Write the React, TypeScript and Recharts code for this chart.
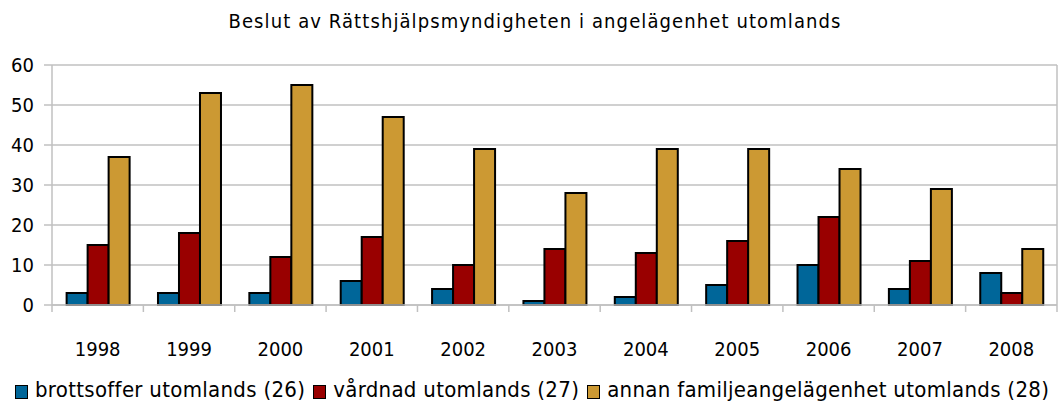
import { Bar, BarChart, CartesianGrid, XAxis, YAxis } from "recharts";

const years = ["1998", "1999", "2000", "2001", "2002", "2003", "2004", "2005", "2006", "2007", "2008"];
const brottsoffer = [3, 3, 3, 6, 4, 1, 2, 5, 10, 4, 8];
const vardnad = [15, 18, 12, 17, 10, 14, 13, 16, 22, 11, 3];
const annan = [37, 53, 55, 47, 39, 28, 39, 39, 34, 29, 14];
const yTicks = [0, 10, 20, 30, 40, 50, 60];

const seriesNames = [
  "brottsoffer utomlands (26)",
  "vårdnad utomlands (27)",
  "annan familjeangelägenhet utomlands (28)",
];
const seriesKeys = ["brottsoffer", "vardnad", "annan"];
const seriesColors = ["#006699", "#990000", "#CC9933"];

const title = "Beslut av Rättshjälpsmyndigheten i angelägenhet utomlands";

const data = years.map((year, i) => ({
  year,
  brottsoffer: brottsoffer[i],
  vardnad: vardnad[i],
  annan: annan[i],
}));

const FONT = "'DejaVu Sans Condensed', 'DejaVu Sans', sans-serif";
const GRID = "#c0c0c0";

const XTick = (props: any) => {
  const { x, y, payload, index } = props;
  const half = payload?.offset ?? 45.7;
  return (
    <g>
      <line x1={x - half} x2={x - half} y1={y} y2={y + 7} stroke={GRID} strokeWidth={1.5} />
      {index === years.length - 1 && (
        <line x1={x + half} x2={x + half} y1={y} y2={y + 7} stroke={GRID} strokeWidth={1.5} />
      )}
      <text x={x} y={y + 51} textAnchor="middle" fontSize={20} fill="#000" fontFamily={FONT}>
        {payload.value}
      </text>
    </g>
  );
};

export default function App() {
  return (
    <div style={{ position: "absolute", left: 0, top: 0, width: 1060, height: 401, background: "#fff", fontFamily: FONT }}>
      <div
        style={{
          position: "absolute",
          top: 10,
          left: 0,
          width: 1070,
          textAlign: "center",
          fontSize: 20,
          lineHeight: "22px",
          color: "#000",
          letterSpacing: 1.1,
        }}
      >
        {title}
      </div>
      <BarChart
        width={1060}
        height={401}
        data={data}
        margin={{ top: 65, right: 3, left: 0, bottom: 0 }}
        barCategoryGap="16%"
        barGap={0}
      >
        <CartesianGrid
          stroke={GRID}
          strokeWidth={1.5}
          vertical={true}
          verticalCoordinatesGenerator={({ offset }: any) => [offset.left + offset.width]}
        />
        <XAxis
          dataKey="year"
          height={96}
          axisLine={{ stroke: GRID, strokeWidth: 1.5 }}
          tickLine={false}
          tickSize={0}
          tickMargin={0}
          tick={<XTick />}
          interval={0}
        />
        <YAxis
          width={52}
          domain={[0, 60]}
          ticks={yTicks}
          interval={0}
          axisLine={{ stroke: GRID, strokeWidth: 1.5 }}
          tickLine={{ stroke: GRID, strokeWidth: 1.5 }}
          tickSize={8}
          tickMargin={10}
          tick={{ fontSize: 20, fill: "#000", fontFamily: FONT }}
        />
        {seriesKeys.map((key, i) => (
          <Bar
            key={key}
            dataKey={key}
            name={seriesNames[i]}
            fill={seriesColors[i]}
            stroke="#000"
            strokeWidth={2}
            isAnimationActive={false}
          />
        ))}
      </BarChart>
      <div
        style={{
          position: "absolute",
          top: 378,
          left: 15,
          display: "flex",
          alignItems: "center",
          fontSize: 22,
          color: "#000",
          whiteSpace: "nowrap",
          lineHeight: "24px",
          letterSpacing: 0.3,
        }}
      >
        {seriesNames.map((name, i) => (
          <span key={name} style={{ display: "flex", alignItems: "center", marginRight: 8 }}>
            <span
              style={{
                display: "inline-block",
                width: 11,
                height: 12,
                background: seriesColors[i],
                border: "1.5px solid #000",
                marginRight: 7,
                marginTop: 4,
              }}
            />
            {name}
          </span>
        ))}
      </div>
    </div>
  );
}
